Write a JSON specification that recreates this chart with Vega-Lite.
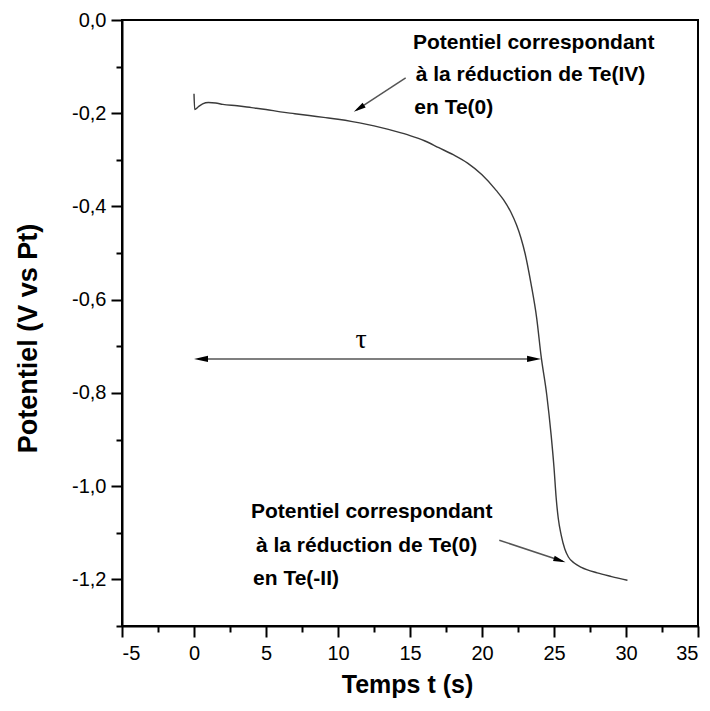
{
  "$schema": "https://vega.github.io/schema/vega-lite/v6.json",
  "width": 576,
  "height": 606,
  "autosize": {"type": "none"},
  "padding": {"left": 122, "top": 20, "right": 12, "bottom": 85},
  "background": "white",
  "config": {
    "font": "Liberation Sans",
    "view": {"stroke": "black", "strokeWidth": 2},
    "axis": {
      "grid": false,
      "domainColor": "black",
      "domainWidth": 2,
      "tickColor": "black",
      "tickWidth": 2,
      "labelColor": "black",
      "labelFont": "Liberation Sans",
      "labelFontSize": 20,
      "titleFont": "Liberation Sans",
      "titleFontSize": 25,
      "titleFontWeight": "bold",
      "titleColor": "black"
    }
  },
  "datasets": {
    "curve": [
      {"t": 0.0, "v": -0.158},
      {"t": 0.05, "v": -0.192},
      {"t": 0.3, "v": -0.186},
      {"t": 0.6, "v": -0.18},
      {"t": 1.0, "v": -0.177},
      {"t": 1.5, "v": -0.178},
      {"t": 2.0, "v": -0.181},
      {"t": 3.0, "v": -0.184},
      {"t": 4.0, "v": -0.188},
      {"t": 5.0, "v": -0.192},
      {"t": 6.0, "v": -0.197},
      {"t": 7.0, "v": -0.201},
      {"t": 8.0, "v": -0.205},
      {"t": 9.0, "v": -0.209},
      {"t": 10.0, "v": -0.213},
      {"t": 11.0, "v": -0.218},
      {"t": 12.0, "v": -0.224},
      {"t": 13.0, "v": -0.231},
      {"t": 14.0, "v": -0.239},
      {"t": 15.0, "v": -0.248},
      {"t": 16.0, "v": -0.259},
      {"t": 17.0, "v": -0.274},
      {"t": 18.0, "v": -0.289},
      {"t": 19.0, "v": -0.307},
      {"t": 20.0, "v": -0.332},
      {"t": 21.0, "v": -0.366},
      {"t": 21.5, "v": -0.386},
      {"t": 22.0, "v": -0.412},
      {"t": 22.4, "v": -0.44},
      {"t": 22.7, "v": -0.467},
      {"t": 23.0, "v": -0.502},
      {"t": 23.4, "v": -0.565},
      {"t": 23.8, "v": -0.64},
      {"t": 24.1, "v": -0.72},
      {"t": 24.5, "v": -0.805},
      {"t": 24.8, "v": -0.89},
      {"t": 25.0, "v": -0.96},
      {"t": 25.15, "v": -1.025},
      {"t": 25.3, "v": -1.07},
      {"t": 25.5, "v": -1.105},
      {"t": 25.75, "v": -1.135},
      {"t": 26.0, "v": -1.152},
      {"t": 26.4, "v": -1.165},
      {"t": 26.9, "v": -1.174},
      {"t": 28.0, "v": -1.186},
      {"t": 29.0, "v": -1.194},
      {"t": 30.1, "v": -1.202}
    ],
    "arrows": [
      {"name": "tau", "t": 0.3, "v": -0.727, "t2": 23.8, "v2": -0.727},
      {"name": "top", "t": 14.7, "v": -0.124, "t2": 11.3, "v2": -0.193},
      {"name": "bottom", "t": 21.2, "v": -1.116, "t2": 25.6, "v2": -1.161}
    ],
    "heads": [
      {"name": "tauR", "t": 24.1, "v": -0.727},
      {"name": "tauL", "t": 0.0, "v": -0.727},
      {"name": "top", "t": 11.1, "v": -0.197},
      {"name": "bottom", "t": 25.8, "v": -1.163}
    ],
    "labels": [
      {"t": 15.2, "v": -0.049, "label": "Potentiel correspondant"},
      {"t": 15.4, "v": -0.118, "label": "à la réduction de Te(IV)"},
      {"t": 15.3, "v": -0.189, "label": "en Te(0)"},
      {"t": 3.95, "v": -1.056, "label": "Potentiel correspondant"},
      {"t": 4.3, "v": -1.129, "label": "à la réduction de Te(0)"},
      {"t": 4.1, "v": -1.2, "label": "en Te(-II)"}
    ],
    "tau": [
      {"t": 11.6, "v": -0.687, "label": "τ"}
    ]
  },
  "encoding": {
    "x": {
      "field": "t",
      "type": "quantitative",
      "scale": {"domain": [-5, 35], "nice": false, "zero": false},
      "axis": {
        "title": "Temps t (s)",
        "values": [-5, -2.5, 0, 2.5, 5, 7.5, 10, 12.5, 15, 17.5, 20, 22.5, 25, 27.5, 30, 32.5, 35],
        "labelExpr": "datum.value % 5 === 0 ? replace(format(datum.value, 'd'), '−', '-') : ''",
        "tickSize": {"condition": {"test": "datum.value % 5 === 0", "value": 11}, "value": 6},
        "labelPadding": 6,
        "titleX": 285,
        "titleY": 58,
        "titleBaseline": "middle",
        "titleAlign": "center"
      }
    },
    "y": {
      "field": "v",
      "type": "quantitative",
      "scale": {"domain": [-1.3, 0], "nice": false, "zero": false},
      "axis": {
        "title": "Potentiel (V vs Pt)",
        "values": [0, -0.1, -0.2, -0.3, -0.4, -0.5, -0.6, -0.7, -0.8, -0.9, -1.0, -1.1, -1.2, -1.3],
        "labelExpr": "abs(round(datum.value*10)) % 2 === 0 ? replace(replace(format(datum.value, '.1f'), '.', ','), '−', '-') : ''",
        "tickSize": {"condition": {"test": "abs(round(datum.value*10)) % 2 === 0", "value": 11}, "value": 6},
        "labelPadding": 5,
        "titleAngle": 270,
        "titleX": -94,
        "titleY": 318,
        "titleBaseline": "middle",
        "titleAlign": "center",
        "titleFontSize": 27
      }
    }
  },
  "layer": [
    {
      "data": {"name": "curve"},
      "mark": {"type": "line", "color": "#3a3a3a", "strokeWidth": 1.4, "interpolate": "monotone"}
    },
    {
      "data": {"name": "arrows"},
      "mark": {"type": "rule", "color": "#555555", "strokeWidth": 1.5},
      "encoding": {"x2": {"field": "t2"}, "y2": {"field": "v2"}}
    },
    {
      "data": {"name": "heads"},
      "transform": [{"filter": "datum.name === 'tauR'"}],
      "mark": {"type": "point", "shape": "M0,0L-0.45,2L0.45,2Z", "filled": true, "color": "black", "opacity": 1, "size": 196, "angle": 90}
    },
    {
      "data": {"name": "heads"},
      "transform": [{"filter": "datum.name === 'tauL'"}],
      "mark": {"type": "point", "shape": "M0,0L-0.45,2L0.45,2Z", "filled": true, "color": "black", "opacity": 1, "size": 196, "angle": 270}
    },
    {
      "data": {"name": "heads"},
      "transform": [{"filter": "datum.name === 'top'"}],
      "mark": {"type": "point", "shape": "M0,0L-0.45,2L0.45,2Z", "filled": true, "color": "black", "opacity": 1, "size": 150, "angle": 237}
    },
    {
      "data": {"name": "heads"},
      "transform": [{"filter": "datum.name === 'bottom'"}],
      "mark": {"type": "point", "shape": "M0,0L-0.45,2L0.45,2Z", "filled": true, "color": "black", "opacity": 1, "size": 150, "angle": 108}
    },
    {
      "data": {"name": "labels"},
      "mark": {"type": "text", "align": "left", "baseline": "middle", "font": "Liberation Sans", "fontWeight": "bold", "fontSize": 21, "color": "black"},
      "encoding": {"text": {"field": "label"}}
    },
    {
      "data": {"name": "tau"},
      "mark": {"type": "text", "align": "center", "baseline": "middle", "font": "Liberation Serif", "fontSize": 28, "color": "black"},
      "encoding": {"text": {"field": "label"}}
    }
  ]
}
